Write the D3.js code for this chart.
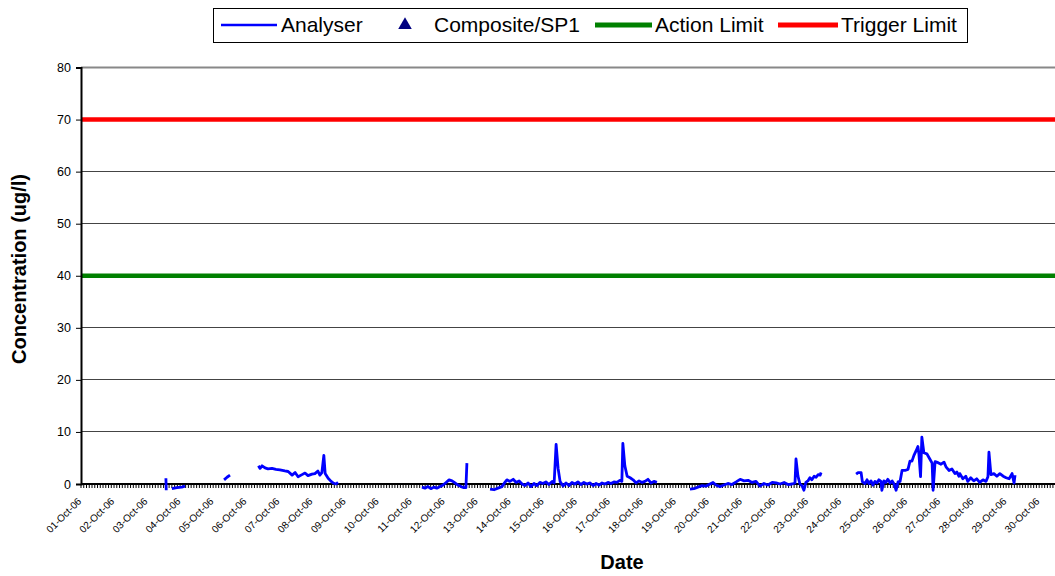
<!DOCTYPE html>
<html><head><meta charset="utf-8">
<script src="https://cdn.jsdelivr.net/npm/d3@7"></script>
<style>body{margin:0;background:#fff;}svg{display:block;font-family:"Liberation Sans",Arial,sans-serif;}</style>
</head><body>
<svg id="chart" width="1055" height="576"></svg>
<script>
// ---- data ----
const dateLabels = ["01-Oct-06","02-Oct-06","03-Oct-06","04-Oct-06","05-Oct-06","06-Oct-06","07-Oct-06","08-Oct-06","09-Oct-06","10-Oct-06","11-Oct-06","12-Oct-06","13-Oct-06","14-Oct-06","15-Oct-06","16-Oct-06","17-Oct-06","18-Oct-06","19-Oct-06","20-Oct-06","21-Oct-06","22-Oct-06","23-Oct-06","24-Oct-06","25-Oct-06","26-Oct-06","27-Oct-06","28-Oct-06","29-Oct-06","30-Oct-06"];
const yTicks = [0,10,20,30,40,50,60,70,80];
const actionLimit = 40;
const triggerLimit = 70;
const compositeDays = [];
const compositeValues = [];
// Analyser: days since 01-Oct-06 00:00, value (null = gap)
const analyserDays = [
 2.57,2.58,null,
 2.75,2.90,3.05,3.15,null,
 4.33,4.42,4.51,null,
 5.37,5.42,5.48,5.57,5.66,5.78,5.90,6.02,6.17,6.27,6.39,6.48,6.57,6.69,6.78,6.87,6.99,7.08,7.17,7.23,7.29,7.35,7.39,7.48,7.57,7.63,7.72,7.78,null,
 10.32,10.41,10.50,10.59,10.68,10.77,10.87,10.96,11.05,11.14,11.23,11.32,11.41,11.50,11.59,11.65,11.68,null,
 12.38,12.50,12.62,12.74,12.83,12.89,12.98,13.08,13.17,13.26,13.35,13.44,13.53,13.62,13.71,13.80,13.89,13.98,14.07,14.16,14.26,14.32,14.38,14.44,14.50,14.59,14.68,14.77,14.86,14.95,15.04,15.13,15.22,15.31,15.41,15.50,15.59,15.68,15.77,15.86,15.95,16.04,16.13,16.22,16.31,16.37,16.40,16.46,16.53,16.62,16.71,16.80,16.89,16.98,17.07,17.16,17.25,17.34,17.43,null,
 18.43,18.55,18.67,18.80,18.92,19.04,19.13,19.22,19.34,19.46,19.58,19.70,19.83,19.95,20.07,20.19,20.31,20.43,20.55,20.67,20.79,20.92,21.04,21.16,21.28,21.40,21.52,21.61,21.64,21.70,21.76,21.82,21.88,21.94,22.00,22.06,22.12,22.19,22.25,22.31,22.37,22.40,null,
 23.46,23.52,23.61,23.65,23.73,23.79,23.85,23.91,23.97,24.03,24.09,24.15,24.21,24.24,24.30,24.36,24.42,24.49,24.55,24.61,24.67,24.73,24.79,24.85,24.94,25.03,25.09,25.15,25.21,25.27,25.33,25.36,25.41,25.45,25.51,25.60,25.69,25.76,25.79,25.85,25.94,26.03,26.12,26.18,26.27,26.36,26.45,26.51,26.57,26.60,26.69,26.78,26.84,26.93,27.02,27.11,27.20,27.30,27.39,27.45,27.48,27.54,27.63,27.72,27.81,27.91,28.00,28.09,28.18,28.24,28.27
];
const analyserValues = [
 1.1,-1.2,null,
 -0.9,-0.7,-0.6,-0.4,null,
 0.8,1.3,1.7,null,
 3.5,3.0,3.5,3.1,2.9,3.0,2.8,2.7,2.5,2.4,1.7,2.2,1.4,1.8,2.1,1.6,1.9,2.0,2.5,1.7,2.2,5.5,2.0,1.1,0.5,0.2,0.0,0.3,null,
 -0.6,-0.8,-0.5,-0.9,-0.6,-0.8,-0.5,-0.2,0.3,0.8,0.6,0.2,-0.2,-0.5,-0.7,-0.7,4.0,null,
 -1.0,-1.1,-0.8,-0.5,0.3,0.8,0.5,0.9,0.3,0.6,0.0,-0.3,0.2,-0.5,0.1,-0.3,0.3,0.1,0.4,-0.1,0.5,0.2,7.6,3.0,0.5,-0.4,0.2,-0.3,0.3,0.0,0.4,-0.1,0.3,0.0,0.2,-0.3,0.1,-0.2,0.2,0.0,0.3,0.1,0.4,0.3,0.7,0.5,7.8,3.5,1.5,1.2,0.8,0.2,0.6,0.3,0.5,0.9,0.2,0.5,0.3,null,
 -1.0,-0.9,-0.6,-0.3,-0.4,0.0,0.3,-0.2,-0.5,-0.2,0.1,-0.1,0.4,0.9,0.6,0.7,0.3,0.5,-0.4,0.1,-0.2,0.3,0.2,0.0,0.3,-0.1,0.0,0.2,4.8,1.5,0.0,-0.3,-1.2,0.3,0.6,1.2,0.8,1.5,1.3,1.8,1.7,2.2,null,
 1.9,2.2,2.2,0.4,0.1,0.8,0.1,0.6,-0.2,0.5,0.2,0.8,0.5,-1.2,0.6,0.3,0.9,0.2,0.6,0.0,-1.2,0.4,0.5,2.6,2.6,2.8,4.4,4.4,5.5,6.3,7.2,5.8,1.4,9.0,6.0,5.8,4.8,4.0,-1.2,4.3,4.1,3.8,4.2,3.3,2.6,2.9,2.0,2.3,1.5,2.0,1.0,1.5,0.5,1.2,0.6,1.0,0.3,0.8,0.5,1.4,6.1,1.8,2.0,1.5,2.0,1.5,1.2,1.0,2.0,0.2,1.7
];

// ---- chart ----
const svg = d3.select("#chart");
const start = new Date(2006, 9, 1);
const dayMs = 864e5;
const toDate = d => new Date(start.getTime() + d * dayMs);
const x = d3.scaleTime().domain([start, toDate(30)]).range([81, 81 + 30 * 33.04]);
const y = d3.scaleLinear().domain([0, 80]).range([484, 67.5]);

// gridlines
svg.append("g").selectAll("line").data(yTicks.filter(v => v > 0 && v < 80))
 .join("line").attr("x1", 81).attr("x2", 1055).attr("y1", d => y(d)).attr("y2", d => y(d))
 .attr("stroke", "#444").attr("stroke-width", 1).attr("shape-rendering", "crispEdges");
svg.append("line").attr("x1", 81).attr("x2", 1055).attr("y1", y(80)).attr("y2", y(80))
 .attr("stroke", "#888").attr("stroke-width", 2);

// limits
svg.append("line").attr("x1", 81).attr("x2", 1055).attr("y1", y(actionLimit)).attr("y2", y(actionLimit))
 .attr("stroke", "#008000").attr("stroke-width", 4.5);
svg.append("line").attr("x1", 81).attr("x2", 1055).attr("y1", y(triggerLimit)).attr("y2", y(triggerLimit))
 .attr("stroke", "#ff0000").attr("stroke-width", 4.5);

// y axis
const yAxis = d3.axisLeft(y).tickValues(yTicks).tickSize(5).tickPadding(5);
const gy = svg.append("g").attr("transform", "translate(81,0)").call(yAxis);
gy.select(".domain").attr("stroke", "#000").attr("stroke-width", 2);
gy.selectAll(".tick line").attr("stroke", "#000");
gy.selectAll("text").attr("font-size", 12.5).attr("fill", "#000").attr("font-family", "Liberation Sans, Arial, sans-serif");

// x axis minor ticks
const minor = d3.timeHour.every(2).range(start, toDate(30));
svg.append("g").selectAll("line").data(minor).join("line")
 .attr("x1", d => x(d)).attr("x2", d => x(d)).attr("y1", 484).attr("y2", 488)
 .attr("stroke", "#000").attr("stroke-width", 1);
svg.append("line").attr("x1", 81).attr("x2", 1055).attr("y1", 484).attr("y2", 484)
 .attr("stroke", "#000").attr("stroke-width", 2);

// x tick labels
svg.append("g").selectAll("text").data(dateLabels).join("text")
 .attr("transform", (d, i) => `translate(${x(toDate(i)) + 1},${502}) rotate(-45)`)
 .attr("text-anchor", "end").attr("font-size", 10).attr("fill", "#000").text(d => d);

// analyser line
const pts = analyserDays.map((d, i) => ({d, v: analyserValues[i]}));
const line = d3.line().defined(p => p.v !== null && p.d !== null)
 .x(p => x(toDate(p.d))).y(p => y(p.v));
svg.append("path").datum(pts).attr("d", line).attr("fill", "none")
 .attr("stroke", "#0000ff").attr("stroke-width", 2.8).attr("stroke-linejoin", "round");

// composite points (none in this period)
svg.append("g").selectAll("path").data(compositeDays.map((d, i) => ({d, v: compositeValues[i]})))
 .join("path").attr("d", d3.symbol(d3.symbolTriangle, 60))
 .attr("transform", p => `translate(${x(toDate(p.d))},${y(p.v)})`).attr("fill", "#000080");

// axis titles
svg.append("text").attr("transform", "translate(26,269) rotate(-90)").attr("text-anchor", "middle")
 .attr("font-size", 20).attr("font-weight", "bold").text("Concentration (ug/l)");
svg.append("text").attr("x", 622).attr("y", 569).attr("text-anchor", "middle")
 .attr("font-size", 20).attr("font-weight", "bold").text("Date");

// legend
const lg = svg.append("g");
lg.append("rect").attr("x", 213.5).attr("y", 8.5).attr("width", 754).attr("height", 34)
 .attr("fill", "#fff").attr("stroke", "#000").attr("stroke-width", 1);
const ly = 25;
lg.append("line").attr("x1", 221).attr("x2", 277).attr("y1", ly).attr("y2", ly).attr("stroke", "#0000ff").attr("stroke-width", 2.5);
lg.append("text").attr("x", 281).attr("y", ly + 7).attr("font-size", 21).text("Analyser");
lg.append("path").attr("d", d3.symbol(d3.symbolTriangle, 80)).attr("transform", `translate(405,${ly})`).attr("fill", "#000080");
lg.append("text").attr("x", 434).attr("y", ly + 7).attr("font-size", 21).text("Composite/SP1");
lg.append("line").attr("x1", 595).attr("x2", 652).attr("y1", ly).attr("y2", ly).attr("stroke", "#008000").attr("stroke-width", 5);
lg.append("text").attr("x", 655).attr("y", ly + 7).attr("font-size", 21).text("Action Limit");
lg.append("line").attr("x1", 778).attr("x2", 838).attr("y1", ly).attr("y2", ly).attr("stroke", "#ff0000").attr("stroke-width", 5);
lg.append("text").attr("x", 841).attr("y", ly + 7).attr("font-size", 21).text("Trigger Limit");
</script>
</body></html>
